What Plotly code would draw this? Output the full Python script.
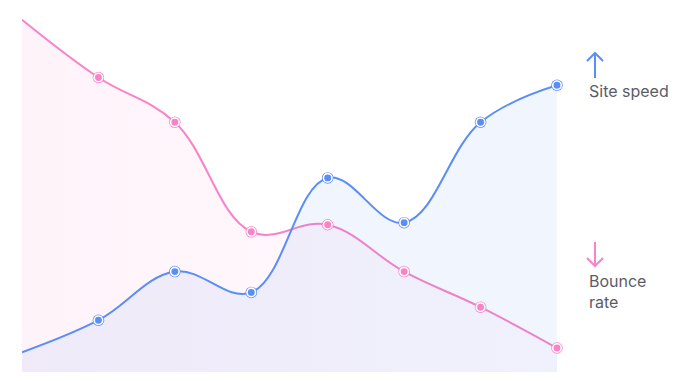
import plotly.graph_objects as go

steps = [0, 1, 2, 3, 4, 5, 6, 7]
bounce_rate = [100, 83.6, 70.9, 39.8, 41.8, 28.5, 18.4, 6.8]
site_speed = [5.6, 14.7, 28.5, 22.6, 55.1, 42.4, 70.9, 81.4]
labels = ["Site speed", "Bounce<br>rate"]

BLUE = "#5a8ef6"
PINK = "#f982c8"

fig = go.Figure()

fig.add_trace(go.Scatter(
    x=steps, y=bounce_rate, mode="lines", line=dict(color=PINK, width=2, shape="spline", smoothing=1.1),
    fill="tozeroy",
    fillgradient=dict(type="horizontal", colorscale=[[0, "rgba(249,130,200,0.10)"], [1, "rgba(249,130,200,0.03)"]]),
    hoverinfo="skip", showlegend=False))
fig.add_trace(go.Scatter(
    x=steps, y=site_speed, mode="lines", line=dict(color=BLUE, width=2, shape="spline", smoothing=1.1),
    fill="tozeroy", fillcolor="rgba(90,142,246,0.09)",
    hoverinfo="skip", showlegend=False))

for ys, c in [(bounce_rate, PINK), (site_speed, BLUE)]:
    fig.add_trace(go.Scatter(x=steps[1:], y=ys[1:], mode="markers",
                             marker=dict(size=11.5, color=c, line=dict(width=0)),
                             hoverinfo="skip", showlegend=False, cliponaxis=False))
    fig.add_trace(go.Scatter(x=steps[1:], y=ys[1:], mode="markers",
                             marker=dict(size=8.5, color=c, line=dict(width=1.6, color="white")),
                             hoverinfo="skip", showlegend=False, cliponaxis=False))

# page offset of 8px (body margin) compensated in margins
OFF = 8
W, H = 535.0, 354.0
def px(x):
    return (x - 22) / W
def py(y):
    return (372 - y) / H

def arrow(x, tip, tail, wing, color):
    path = (f"M {px(x)},{py(tail)} L {px(x)},{py(tip)} "
            f"M {px(x-8)},{py(wing)} L {px(x)},{py(tip)} L {px(x+8)},{py(wing)}")
    fig.add_shape(type="path", xref="paper", yref="paper", path=path,
                  line=dict(color=color, width=2))

arrow(595, 53, 78, 61, BLUE)
arrow(595, 266, 242, 258, PINK)

fig.add_annotation(xref="paper", yref="paper", x=px(587), y=py(91), text=labels[0],
                   showarrow=False, xanchor="left", yanchor="middle",
                   font=dict(family="Inter", size=16, color="#5c5c66"))
fig.add_annotation(xref="paper", yref="paper", x=px(587), y=py(291), text=labels[1],
                   showarrow=False, xanchor="left", yanchor="middle", align="left",
                   font=dict(family="Inter", size=16, color="#5c5c66"))

fig.update_layout(
    width=684, height=381,
    margin=dict(l=22 - OFF, r=684 - (22 - OFF) - 535, t=18 - OFF, b=381 - (18 - OFF) - 354),
    paper_bgcolor="white", plot_bgcolor="white",
    xaxis=dict(range=[0, 7], visible=False, fixedrange=True),
    yaxis=dict(range=[0, 100.5], visible=False, fixedrange=True),
)

fig.write_html("out.html")
